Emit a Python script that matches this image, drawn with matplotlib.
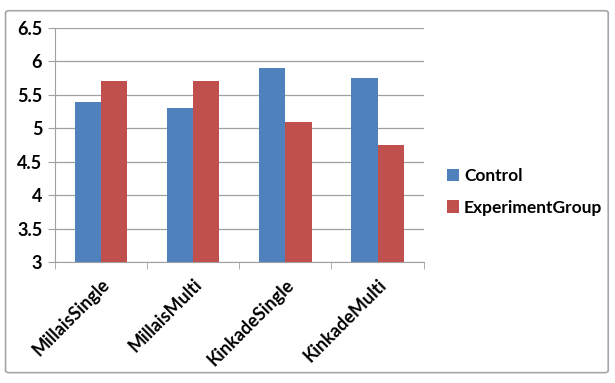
import numpy as np
import matplotlib.pyplot as plt
from matplotlib.patches import FancyBboxPatch

categories = ["MillaisSingle", "MillaisMulti", "KinkadeSingle", "KinkadeMulti"]
control = [5.4, 5.3, 5.9, 5.75]
experiment = [5.7, 5.7, 5.1, 4.75]
series_names = ["Control", "ExperimentGroup"]
y_ticks = [3, 3.5, 4, 4.5, 5, 5.5, 6, 6.5]

plt.rcParams['font.family'] = ['Lato', 'DejaVu Sans']

fig = plt.figure(figsize=(6.15, 3.83), dpi=100)
fig.patches.append(FancyBboxPatch((0.009, 0.027), 0.98, 0.945,
                                  boxstyle="round,pad=0,rounding_size=0.006",
                                  transform=fig.transFigure, fill=False,
                                  edgecolor="#a6a6a6", linewidth=1.2))
ax = fig.add_axes([0.089, 0.316, 0.600, 0.611])

x = np.arange(len(categories))
w = 0.285
ax.bar(x - w/2, control, w, color="#4f81bd", label=series_names[0], zorder=3)
ax.bar(x + w/2, experiment, w, color="#c0504d", label=series_names[1], zorder=3)

ax.set_xlim(-0.5, len(categories) - 0.5)
ax.set_ylim(3, 6.5)
ax.set_yticks(y_ticks)
ax.set_yticklabels([f"{t:g}" for t in y_ticks], fontsize=13, fontweight='bold')
ax.yaxis.grid(True, color="#a0a0a0", linewidth=0.9, zorder=0)

ax.set_xticks(x)
ax.set_xticklabels(categories, rotation=45, ha='right', rotation_mode='anchor',
                   fontsize=13, fontweight='bold')
ax.tick_params(axis='x', length=0, pad=10)
ax.set_xticks(np.arange(-0.5, len(categories)), minor=True)
ax.tick_params(axis='x', which='minor', length=5, color="#a0a0a0")
ax.tick_params(axis='y', length=5, color="#a0a0a0", pad=4)

for s in ['top', 'right']:
    ax.spines[s].set_visible(False)
ax.spines['left'].set_color("#a0a0a0")
ax.spines['bottom'].set_color("#a0a0a0")

ax.legend(loc='center left', bbox_to_anchor=(1.02, 0.30), frameon=False,
          prop={'size': 12.5, 'weight': 'bold'}, handlelength=0.7,
          handleheight=0.7, handletextpad=0.3, labelspacing=0.9)

fig.savefig("out.png", dpi=100)
